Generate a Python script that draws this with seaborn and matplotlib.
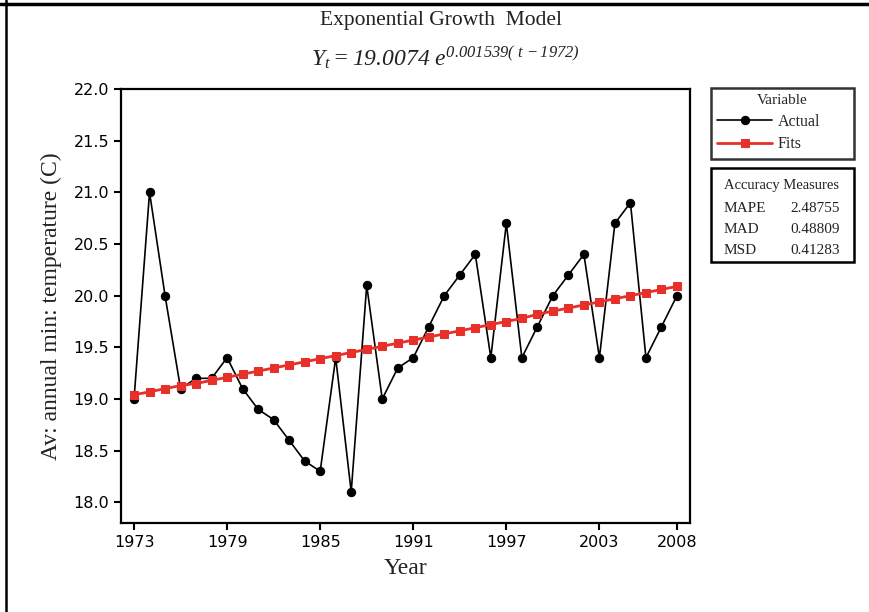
import matplotlib
matplotlib.use("Agg")
import matplotlib.pyplot as plt
import numpy as np
import pandas as pd
import seaborn as sns
from matplotlib.lines import Line2D
from matplotlib.patches import Rectangle

# data
years = list(range(1973, 2009))
actual = [19.0, 21.0, 20.0, 19.1, 19.2, 19.2, 19.4, 19.1, 18.9, 18.8,
          18.6, 18.4, 18.3, 19.4, 18.1, 20.1, 19.0, 19.3, 19.4, 19.7,
          20.0, 20.2, 20.4, 19.4, 20.7, 19.4, 19.7, 20.0, 20.2, 20.4,
          19.4, 20.7, 20.9, 19.4, 19.7, 20.0]
fits = [19.04, 19.07, 19.10, 19.13, 19.15, 19.18, 19.21, 19.24, 19.27, 19.30,
        19.33, 19.36, 19.39, 19.42, 19.45, 19.48, 19.51, 19.54, 19.57, 19.60,
        19.63, 19.66, 19.69, 19.72, 19.75, 19.78, 19.82, 19.85, 19.88, 19.91,
        19.94, 19.97, 20.00, 20.03, 20.06, 20.09]
xticks = [1973, 1979, 1985, 1991, 1997, 2003, 2008]
yticks = [18.0, 18.5, 19.0, 19.5, 20.0, 20.5, 21.0, 21.5, 22.0]
measures = ["MAPE", "MAD", "MSD"]
measure_vals = ["2.48755", "0.48809", "0.41283"]

df = pd.DataFrame({"Year": years, "Actual": actual, "Fits": fits})

sns.set_style("white")
plt.rcParams["font.family"] = ["DejaVu Sans"]
plt.rcParams["mathtext.fontset"] = "custom"
plt.rcParams["mathtext.rm"] = "Liberation Serif:italic"
plt.rcParams["mathtext.it"] = "Liberation Serif:italic"

W, H = 869, 612
fig = plt.figure(figsize=(W / 100, H / 100), dpi=100)
ax = fig.add_axes([121 / W, 1 - 523 / H, (690 - 121) / W, (523 - 89) / H])

sns.lineplot(data=df, x="Year", y="Actual", ax=ax, color="black", lw=1.2,
             marker="o", markersize=6, markeredgecolor="black", label="Actual")
sns.lineplot(data=df, x="Year", y="Fits", ax=ax, color="#e8302a", lw=2,
             marker="s", markersize=5.5, markeredgecolor="#e8302a", label="Fits")

ax.set_xlim(1972.16, 2008.84)
ax.set_ylim(17.8, 22.0)
ax.set_xticks(xticks)
ax.set_yticks(yticks)
ax.set_yticklabels([f"{v:.1f}" for v in yticks])
ax.tick_params(direction="out", length=5, width=1.5, labelsize=11.5,
               colors="black", bottom=True, left=True)
for s in ax.spines.values():
    s.set_linewidth(1.6)
    s.set_color("black")

serif = "Liberation Serif"
ax.set_xlabel("Year", fontfamily=serif, fontsize=17, color="#222222", labelpad=6)
ax.set_ylabel("Av: annual min: temperature (C)", fontfamily=serif, fontsize=17,
              color="#222222", labelpad=8)

fig.text(0.507, 1 - 20 / H, "Exponential Growth  Model", ha="center", va="center",
         fontfamily=serif, fontsize=15.5, color="#222222")
fig.text(0.512, 1 - 58 / H, r"$Y_t = 19.0074\ e^{0.001539(\ t\,-1972)}$",
         ha="center", va="center", fontsize=17, color="#222222")

leg = ax.legend(bbox_to_anchor=(711 / W, 1 - 160 / H, 143 / W, 72 / H),
                bbox_transform=fig.transFigure, loc="upper left", mode="expand",
                title="Variable", fancybox=False, edgecolor="black",
                prop={"family": serif, "size": 11.5}, handlelength=3.4,
                handletextpad=0.4, borderaxespad=0, labelspacing=0.4,
                borderpad=0.4)
leg.get_title().set_fontfamily(serif)
leg.get_title().set_fontsize(11)
leg.get_frame().set_linewidth(1.8)

# accuracy measures box
fig.add_artist(Rectangle((711 / W, 1 - 262 / H), 143 / W, 94 / H,
                         transform=fig.transFigure, fill=False,
                         edgecolor="black", lw=1.8))
fig.text(724 / W, 1 - 186 / H, "Accuracy Measures", va="center",
         fontfamily=serif, fontsize=10.5, color="#222222")
for i, (m, v) in enumerate(zip(measures, measure_vals)):
    y = 1 - (208 + i * 21.5) / H
    fig.text(724 / W, y, m, va="center", fontfamily=serif, fontsize=11, color="#222222")
    fig.text(840 / W, y, v, va="center", ha="right", fontfamily=serif,
             fontsize=11, color="#222222")

# outer frame lines
fig.add_artist(Line2D([0, 1], [1 - 4 / H, 1 - 4 / H], transform=fig.transFigure,
                      color="black", lw=2.5))
fig.add_artist(Line2D([6 / W, 6 / W], [0, 1], transform=fig.transFigure,
                      color="black", lw=1.8))

fig.savefig("out.png", dpi=100)
